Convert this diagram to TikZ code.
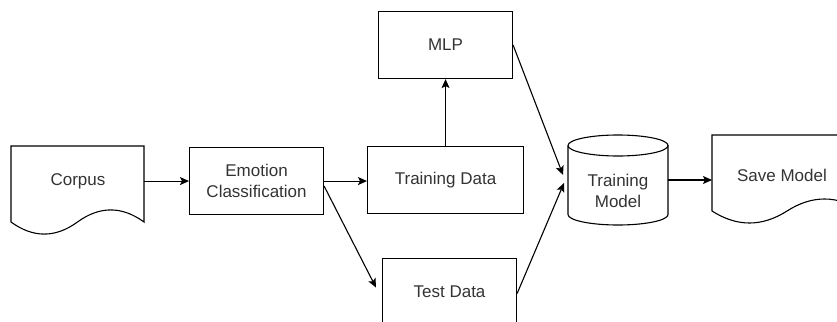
\documentclass[tikz,border=0pt]{standalone}
\usepackage{fontspec}
\setmainfont{Liberation Sans}
\usetikzlibrary{arrows.meta,calc}

\begin{document}
\begin{tikzpicture}[x=1pt,y=-1pt,
  box/.style={draw, line width=1.1pt, inner sep=0pt, rectangle, anchor=north west,
              font=\fontsize{17}{21.5}\selectfont, align=center, text=black!80},
  area/.style={inner sep=0pt, outer sep=0pt, rectangle, anchor=north west},
  lbl/.style={font=\fontsize{17}{21.5}\selectfont, align=center, text=black!80},
  outline/.style={draw, line width=1.1pt},
  arr/.style={draw, line width=1.1pt, -{Stealth[length=9pt,width=8pt,inset=2pt]}}]

\useasboundingbox (0,0) rectangle (837,321);
\clip (0,0) rectangle (837,321);

% process boxes
\node[box, minimum width=134pt, minimum height=67pt] (emo)   at (189,147) {Emotion\\Classification};
\node[box, minimum width=134pt, minimum height=67pt] (mlp)   at (378,11)  {MLP};
\node[box, minimum width=156pt, minimum height=67pt] (train) at (367,146) {Training Data};
\node[box, minimum width=134pt, minimum height=67pt] (test)  at (382,258) {Test Data};

% document shape: Corpus
\node[area, minimum width=133pt, minimum height=89pt] (corpus) at (11,146) {};
\draw[outline] (11,146) -- (144,146) -- (144,222)
  .. controls (121.8,205.9) and (99.7,205.9) .. (77.5,222)
  .. controls (55.3,238.1) and (33.2,238.1) .. (11,222) -- cycle;
\node[lbl] (corpuslbl) at (78,181) {Corpus};

% document shape: Save Model
\node[area, minimum width=150pt, minimum height=89pt] (save) at (712,135) {};
\draw[outline] (712,135) -- (862,135) -- (862,211)
  .. controls (837,195) and (812,195) .. (787,211)
  .. controls (762,227) and (737,227) .. (712,211) -- cycle;
\node[lbl] (savelbl) at (782,175) {Save Model};

% cylinder: Training Model
\node[area, minimum width=100pt, minimum height=90pt] (cyl) at (568,135) {};
\draw[outline] (618,145.5) ellipse [x radius=50pt, y radius=10.5pt];
\draw[outline] (568,145.5) -- (568,214.5)
  arc[start angle=180, end angle=360, x radius=50pt, y radius=10.5pt] -- (668,145.5);
\node[lbl] (cyllbl) at (618,191) {Training\\Model};

% connectors
\draw[arr] (corpus.east |- emo.west) -- (emo.west);
\draw[arr] (emo.east) -- (emo.east -| train.west);
\draw[arr] ($(emo.east)+(0,5)$) -- ($(test.west)+(-6,-4.5)$);
\draw[arr] (train.north) -- (mlp.south);
\draw[arr] (mlp.east) -- ($(cyl.west)+(-5,-5)$);
\draw[arr] ($(test.east)+(0,1.5)$) -- ($(cyl.west)+(-4,3)$);
\draw[arr] (cyl.east) -- (save.west |- cyl.east);
\end{tikzpicture}
\end{document}
